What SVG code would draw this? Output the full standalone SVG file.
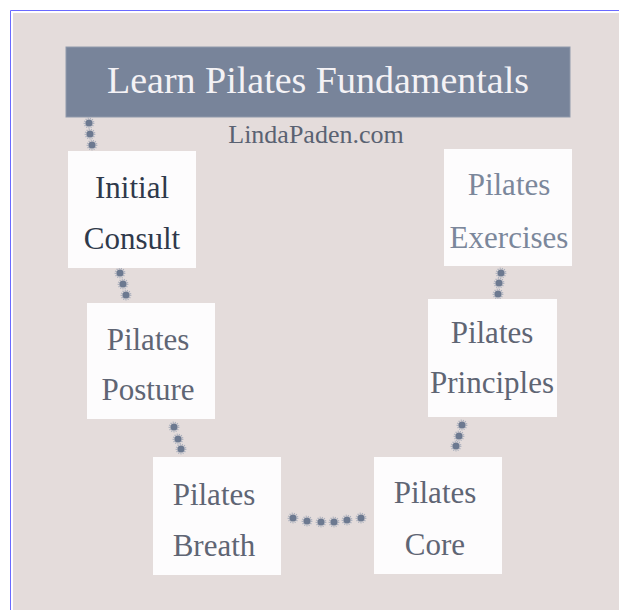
<svg xmlns="http://www.w3.org/2000/svg" xmlns:xlink="http://www.w3.org/1999/xlink" width="619" height="610" viewBox="0 0 619 610">
<defs>
<style>
.bg{fill:#e4dcdb}
.node rect{fill:#fdfcfd}
.lbl{font-family:"Liberation Serif","Times New Roman",serif;font-size:31px;text-anchor:middle;fill:#5f6574}
.title{font-family:"Liberation Serif","Times New Roman",serif;font-size:38px;text-anchor:middle;fill:#f4f2f5}
.site{font-family:"Liberation Serif","Times New Roman",serif;font-size:26px;text-anchor:middle;fill:#5a6272}
</style>
<g id="dot">
<circle r="4.6" fill="none" stroke="#97a1b3" stroke-width="1.6" stroke-dasharray="1 1.2" opacity="0.8"/>
<circle r="3.6" fill="#6c7990"/>
</g>
</defs>
<rect x="0" y="0" width="619" height="610" fill="#ffffff"/>
<rect class="bg" x="13" y="13" width="606" height="597"/>
<path d="M10.5,610 V10.5 H619" fill="none" stroke="#6a6aff" stroke-width="1"/>

<g id="title">
<rect x="66" y="47" width="504" height="70" fill="#78849a" stroke="#8f99ab" stroke-width="1"/>
<text class="title" x="318" y="93">Learn Pilates Fundamentals</text>
</g>
<g id="site">
<text class="site" x="316" y="143">LindaPaden.com</text>
</g>

<g id="connectors">
<g id="c-title-initial"><use href="#dot" x="89" y="123"/><use href="#dot" x="90" y="134"/><use href="#dot" x="92" y="145"/></g>
<g id="c-initial-posture"><use href="#dot" x="120" y="273"/><use href="#dot" x="123" y="284"/><use href="#dot" x="126" y="295"/></g>
<g id="c-posture-breath"><use href="#dot" x="174" y="427"/><use href="#dot" x="178" y="439"/><use href="#dot" x="181" y="449"/></g>
<g id="c-breath-core"><use href="#dot" x="293" y="518"/><use href="#dot" x="307" y="521"/><use href="#dot" x="321" y="522"/><use href="#dot" x="334" y="522"/><use href="#dot" x="347" y="520"/><use href="#dot" x="361" y="518"/></g>
<g id="c-core-principles"><use href="#dot" x="456" y="446"/><use href="#dot" x="459" y="436"/><use href="#dot" x="462" y="425"/></g>
<g id="c-principles-exercises"><use href="#dot" x="498" y="294"/><use href="#dot" x="499" y="283"/><use href="#dot" x="501" y="273"/></g>
</g>

<g id="initial-consult" class="node">
<rect x="68" y="151" width="128" height="117"/>
<text class="lbl" x="132" y="198" style="fill:#2f394b">Initial</text>
<text class="lbl" x="132" y="249" style="fill:#2f394b">Consult</text>
</g>
<g id="pilates-posture" class="node">
<rect x="87" y="303" width="128" height="116"/>
<text class="lbl" x="148" y="350">Pilates</text>
<text class="lbl" x="148" y="400">Posture</text>
</g>
<g id="pilates-breath" class="node">
<rect x="153" y="457" width="128" height="118"/>
<text class="lbl" x="214" y="505">Pilates</text>
<text class="lbl" x="214" y="556">Breath</text>
</g>
<g id="pilates-core" class="node">
<rect x="374" y="457" width="128" height="117"/>
<text class="lbl" x="435" y="503">Pilates</text>
<text class="lbl" x="435" y="555">Core</text>
</g>
<g id="pilates-principles" class="node">
<rect x="428" y="299" width="129" height="118"/>
<text class="lbl" x="492" y="343">Pilates</text>
<text class="lbl" x="492" y="393">Principles</text>
</g>
<g id="pilates-exercises" class="node">
<rect x="444" y="149" width="128" height="117"/>
<text class="lbl" x="509" y="195" style="fill:#7b879b">Pilates</text>
<text class="lbl" x="509" y="248" style="fill:#7b879b">Exercises</text>
</g>
</svg>
